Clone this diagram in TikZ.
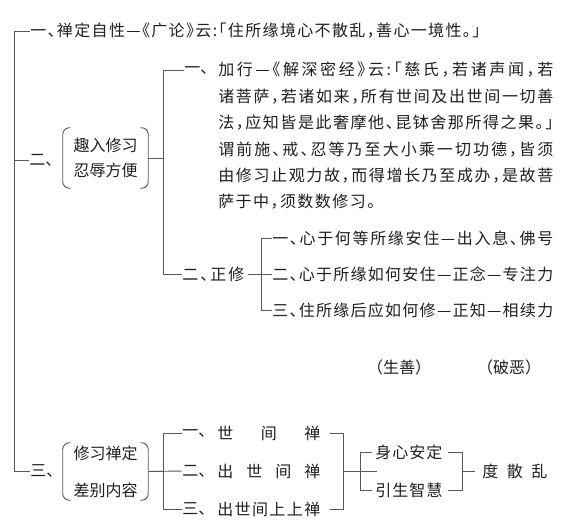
\documentclass[tikz,border=0pt]{standalone}
\usepackage{fontspec}
\newfontfamily\cjk[RawFeature=+halt]{Noto Sans CJK SC}
\newdimen\upx \upx=0.75pt
\def\spreadtext#1{#1\spreadrest}
\def\spreadrest#1{\ifx\relax#1\else\hfil#1\expandafter\spreadrest\fi}
\newcommand\sprd[2]{\hbox to #1\upx{\spreadtext#2\relax}}
\begin{document}
\begin{tikzpicture}[x=0.75pt,y=-0.75pt,
  txt/.style={font={\fontsize{12pt}{14pt}\selectfont\cjk}, inner sep=0pt, anchor=west, text=black!88},
  ctxt/.style={font={\fontsize{12pt}{14pt}\selectfont\cjk}, inner sep=0pt, text=black!88},
  ln/.style={draw=black!65, line width=0.7pt},
  pbox/.style={ctxt, align=center, minimum width=63.75pt}]
\useasboundingbox (0,0) rectangle (566,528);

% ---- top item
\node[txt] (t1) at (30,31) {\sprd{450}{一、禅定自性—《广论》云:「住所缘境心不散乱，善心一境性。」}};
\node[txt] (n2) at (29,160) {二、};
\node[txt] (n3) at (30,471) {三、};
\coordinate (mtop) at (14,31);
\coordinate (m2) at (14,160);
\coordinate (mbot) at (14,471);
\draw[ln] (t1.west) -- (mtop) -- (mbot) -- (n3.west);
\draw[ln] (m2) -- (n2.west);

% ---- box 1
\node[pbox, minimum height=45pt, font={\fontsize{12pt}{18.75pt}\selectfont\cjk}] (b1) at (105.5,158) {趣入修习\\忍辱方便};
\draw[ln, rounded corners=5pt] ([xshift=6pt]b1.north west) -- (b1.north west) -- (b1.south west) -- ([xshift=6pt]b1.south west);
\draw[ln, rounded corners=5pt] ([xshift=-6pt]b1.north east) -- (b1.north east) -- (b1.south east) -- ([xshift=-6pt]b1.south east);

% ---- paragraph
\node[txt] (p0) at (184,70) {一、};
\node[txt] (l1) at (218,70) {\sprd{335}{加行—《解深密经》云:「慈氏，若诸声闻，若}};
\node[txt] (l2) at (218,97) {\sprd{335}{诸菩萨，若诸如来，所有世间及出世间一切善}};
\node[txt] (l3) at (218,123) {\sprd{335}{法，应知皆是此奢摩他、昆钵舍那所得之果。」}};
\node[txt] (l4) at (218,150) {\sprd{335}{谓前施、戒、忍等乃至大小乘一切功德，皆须}};
\node[txt] (l5) at (218,176) {\sprd{335}{由修习止观力故，而得增长乃至成办，是故菩}};
\node[txt] (l6) at (218,202) {\sprd{157}{萨于中，须数数修习。}};

\coordinate (v1t) at (163,70);
\coordinate (v1m) at (163,158);
\coordinate (v1b) at (163,274);
\node[txt] (z2) at (182,274) {\sprd{62}{二、正修}};
\draw[ln] (p0.west) -- (v1t) -- (v1b) -- (z2.west);
\draw[ln] (b1.east) -- (v1m);

% ---- zheng xiu
\node[txt] (c1) at (272,238) {\sprd{281}{一、心于何等所缘安住—出入息、佛号}};
\node[txt] (c2) at (272,274) {\sprd{281}{二、心于所缘如何安住—正念—专注力}};
\node[txt] (c3) at (272,310) {\sprd{281}{三、住所缘后应如何修—正知—相续力}};
\coordinate (z2e) at (248,274);
\coordinate (v2t) at (261,238);
\coordinate (v2b) at (261,310);
\draw[ln] (c1.west) -- (v2t) -- (v2b) -- (c3.west);
\draw[ln] (z2e) -- (c2.west);

\node[ctxt] (s1) at (399,367) {（生善）};
\node[ctxt] (s2) at (509,367) {（破恶）};

% ---- box 2
\node[pbox, minimum height=42.75pt, font={\fontsize{12pt}{27.75pt}\selectfont\cjk}] (b2) at (105.5,471.5) {修习禅定\\差别内容};
\draw[ln, rounded corners=5pt] ([xshift=6pt]b2.north west) -- (b2.north west) -- (b2.south west) -- ([xshift=6pt]b2.south west);
\draw[ln, rounded corners=5pt] ([xshift=-6pt]b2.north east) -- (b2.north east) -- (b2.south east) -- ([xshift=-6pt]b2.south east);

\node[txt] (e1) at (182,433) {一、};
\node[txt] (e2) at (182,471) {二、};
\node[txt] (e3) at (182,509) {三、};
\node[txt] (f1) at (217,433) {\sprd{103}{世间禅}};
\node[txt] (f2) at (217,471) {\sprd{103}{出世间禅}};
\node[txt] (f3) at (217,509) {\sprd{103}{出世间上上禅}};
\coordinate (v3t) at (163,433);
\coordinate (v3b) at (163,509);
\draw[ln] (e1.west) -- (v3t) -- (v3b) -- (e3.west);
\draw[ln] (b2.east) -- (e2.west);

\coordinate (v4t) at (343,433);
\coordinate (v4m) at (343,471);
\coordinate (v4b) at (343,509);
\coordinate (k) at (377,471);
\draw[ln] ([xshift=7pt]f1.east) -- (v4t) -- (v4b) -- ([xshift=7pt]f3.east);
\draw[ln] (v4m) -- (k);

\node[txt] (g1) at (375,452) {\sprd{67}{身心安定}};
\node[txt] (g2) at (375,490) {\sprd{67}{引生智慧}};
\coordinate (v5t) at (360,452);
\coordinate (v5b) at (360,490);
\draw[ln] ([xshift=-2pt]g1.west) -- (v5t) -- (v5b) -- ([xshift=-2pt]g2.west);

\coordinate (v6t) at (462,452);
\coordinate (v6m) at (462,471);
\coordinate (v6b) at (462,490);
\node[txt] (h) at (482,471) {\sprd{65}{度散乱}};
\draw[ln] ([xshift=4pt]g1.east) -- (v6t) -- (v6b) -- ([xshift=4pt]g2.east);
\draw[ln] (v6m) -- ([xshift=-5pt]h.west);
\end{tikzpicture}
\end{document}
